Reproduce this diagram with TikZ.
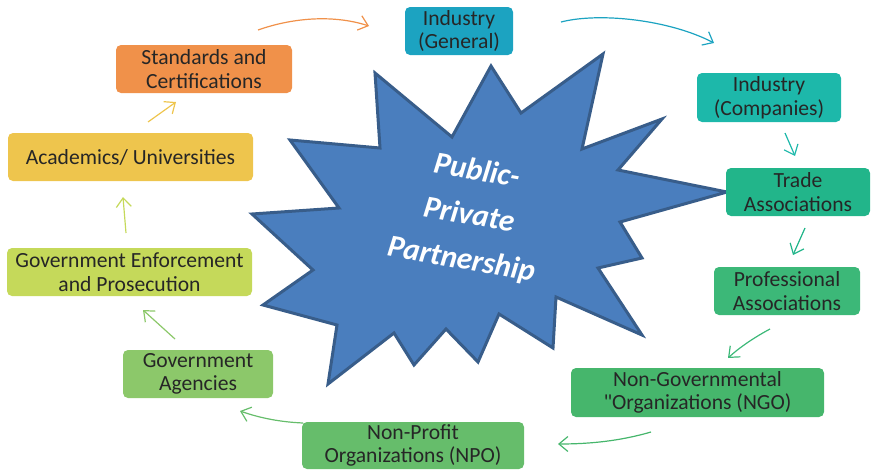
\documentclass[tikz,border=0pt]{standalone}
\usepackage{fontspec}
\setmainfont{Carlito}[Ligatures=TeXOff]
\usetikzlibrary{arrows.meta}
\definecolor{cgen}{HTML}{1CA3C1}
\definecolor{ccomp}{HTML}{1DB8AA}
\definecolor{ctrade}{HTML}{22B58A}
\definecolor{cprof}{HTML}{3CB878}
\definecolor{cngo}{HTML}{46B66C}
\definecolor{cnpo}{HTML}{66BD6B}
\definecolor{cagen}{HTML}{8CC86A}
\definecolor{cenf}{HTML}{C5D95A}
\definecolor{cacad}{HTML}{EEC54D}
\definecolor{cstd}{HTML}{F0914A}
\definecolor{starfill}{HTML}{4A7EBE}
\definecolor{starline}{HTML}{385D8A}
\definecolor{txt}{HTML}{262626}
\tikzset{
  box/.style={rounded corners=5pt, inner sep=0pt, align=center, text=txt,
    font=\fontsize{21.6}{23.5}\selectfont},
  conn/.style={line width=1.2pt, -{Straight Barb[length=9pt,width=15pt,line width=1.2pt]}},
  startext/.style={rotate=-10, text=white, align=center, inner sep=0pt,
    font=\fontsize{31}{45}\selectfont\bfseries\itshape},
}
\begin{document}
\begin{tikzpicture}[x=1pt,y=-1pt]
\useasboundingbox (0,0) rectangle (878,471);
% star
\draw[starline, fill=starfill, line width=3pt, line join=miter]
 (375,73) -- (380,148) -- (290,140) -- (339,208) -- (252,214) -- (313,270) -- (263,305) -- (337,325)
 -- (328,384) -- (394,333) -- (414,365) -- (446,329) -- (478,362) -- (499,314) -- (553,348) -- (556,297)
 -- (642,335) -- (598,268) -- (642,258) -- (620,222) -- (727,192) -- (618,170) -- (662,119) -- (582,149)
 -- (603,54) -- (521,113) -- (491,66) -- (452,137) -- cycle;
\node[startext] (ppp) at (469,216) {Public-\\Private\\Partnership};
% boxes
\node[box, fill=cgen, minimum width=108pt, minimum height=48pt] (gen) at (459,31) {Industry\\(General)};
\node[box, fill=ccomp, minimum width=144pt, minimum height=49pt] (comp) at (769,97.5) {Industry\\(Companies)};
\node[box, fill=ctrade, minimum width=144pt, minimum height=48pt] (trade) at (798,192) {Trade\\Associations};
\node[box, fill=cprof, minimum width=146pt, minimum height=48pt] (prof) at (787,291) {Professional\\Associations};
\node[box, fill=cngo, minimum width=253pt, minimum height=49pt] (ngo) at (697.5,392.5) {Non-Governmental\\"Organizations (NGO)};
\node[box, fill=cnpo, minimum width=222pt, minimum height=47pt] (npo) at (413,445.5) {Non-Profit\\Organizations (NPO)};
\node[box, fill=cagen, minimum width=150pt, minimum height=48pt] (agen) at (198,374) {Government\\Agencies};
\node[box, fill=cenf, minimum width=245pt, minimum height=48pt] (enf) at (129.5,272) {Government Enforcement\\and Prosecution};
\node[box, fill=cacad, minimum width=245pt, minimum height=48pt] (acad) at (130.5,157) {Academics/ Universities};
\node[box, fill=cstd, minimum width=176pt, minimum height=48pt] (std) at (204,69) {Standards and\\Certifications};
% connector end points
\coordinate (a1s) at (258,30);  \coordinate (a1e) at (369,26);
\coordinate (a2s) at (561,22);  \coordinate (a2e) at (714,43);
\coordinate (a3s) at (785,133); \coordinate (a3e) at (795,156);
\coordinate (a4s) at (805,228); \coordinate (a4e) at (793,255);
\coordinate (a5s) at (770,329); \coordinate (a5e) at (728,358);
\coordinate (a6s) at (651,432); \coordinate (a6e) at (558,444);
\coordinate (a7s) at (303,423); \coordinate (a7e) at (240,411);
\coordinate (a8s) at (175,339); \coordinate (a8e) at (143,310);
\coordinate (a9s) at (126,233); \coordinate (a9e) at (123,197);
\coordinate (a10s) at (148,122); \coordinate (a10e) at (176,102);
% connectors
\draw[conn, cstd] (a1s) .. controls (295,17) and (335,15) .. (a1e);
\draw[conn, cgen] (a2s) .. controls (600,12) and (670,20) .. (a2e);
\draw[conn, ccomp] (a3s) -- (a3e);
\draw[conn, ctrade] (a4s) -- (a4e);
\draw[conn, cprof] (a5s) .. controls (755,337) and (740,347) .. (a5e);
\draw[conn, cngo] (a6s) .. controls (620,441) and (590,444) .. (a6e);
\draw[conn, cnpo] (a7s) .. controls (280,422) and (260,418) .. (a7e);
\draw[conn, cagen] (a8s) -- (a8e);
\draw[conn, cenf] (a9s) -- (a9e);
\draw[conn, cacad] (a10s) -- (a10e);
\end{tikzpicture}
\end{document}
